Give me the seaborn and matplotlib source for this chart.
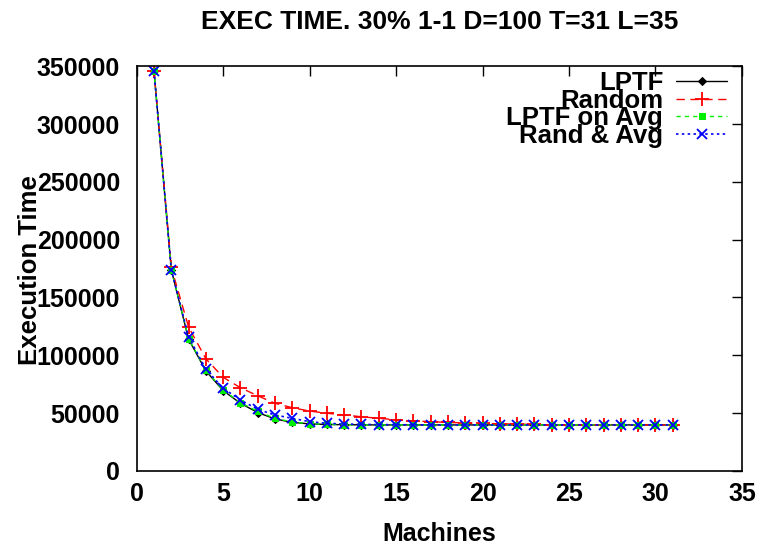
import matplotlib
matplotlib.use("Agg")
import matplotlib.pyplot as plt
import seaborn as sns
import pandas as pd

machines = list(range(1, 32))
lptf = [346000, 174000, 114000, 86500, 69500, 58500, 50500, 45000, 42000, 40700,
        40200, 40000, 39900, 39800, 39800, 39800, 39800, 39800, 39800, 39800,
        39800, 39800, 39800, 39800, 39800, 39800, 39800, 39800, 39800, 39800, 39800]
random_ = [346000, 176000, 124500, 97000, 81000, 72000, 65000, 58500, 54700, 51800,
           49900, 48400, 46900, 45500, 44300, 43300, 42600, 42000, 41500, 41100,
           40800, 40500, 40200, 40000, 39900, 39900, 39800, 39800, 39800, 39800, 39800]
lptf_avg = [346000, 174000, 114500, 87000, 70000, 59000, 51500, 45500, 42300, 40900,
            40300, 40100, 39900, 39800, 39800, 39800, 39800, 39800, 39800, 39800,
            39800, 39800, 39800, 39800, 39800, 39800, 39800, 39800, 39800, 39800, 39800]
rand_avg = [346000, 174000, 116000, 88000, 71500, 61400, 53300, 48400, 45500, 42600,
            41200, 40600, 40300, 40100, 40000, 39900, 39900, 39800, 39800, 39800,
            39800, 39800, 39800, 39800, 39800, 39800, 39800, 39800, 39800, 39800, 39800]
series_names = ["LPTF", "Random", "LPTF on Avg", "Rand & Avg"]
x_ticks = [0, 5, 10, 15, 20, 25, 30, 35]
y_ticks = [0, 50000, 100000, 150000, 200000, 250000, 300000, 350000]

sns.set_style("white")
plt.rcParams["font.family"] = ["Liberation Sans", "DejaVu Sans"]
plt.rcParams["font.weight"] = "bold"
plt.rcParams["text.color"] = "black"
plt.rcParams["axes.labelcolor"] = "black"
plt.rcParams["xtick.color"] = "black"
plt.rcParams["ytick.color"] = "black"

fig = plt.figure(figsize=(7.68, 5.47), dpi=100)
ax = fig.add_axes([0.178, 0.139, 0.788, 0.740])

styles = [
    dict(color="black", linestyle="-", marker="D", markersize=4, linewidth=1.0),
    dict(color="red", linestyle=(0, (6, 4)), marker="+", markersize=9.5, markeredgewidth=1.3, linewidth=1.0),
    dict(color="#00ee00", linestyle=(0, (3, 3)), marker="s", markersize=5, linewidth=1.0),
    dict(color="blue", linestyle=(0, (1.5, 2.0)), marker="x", markersize=6.5, markeredgewidth=1.3, linewidth=1.2),
]
for name, vals, st in zip(series_names, [lptf, random_, lptf_avg, rand_avg], styles):
    df = pd.DataFrame({"Machines": machines, "Execution Time": vals})
    sns.lineplot(data=df, x="Machines", y="Execution Time", ax=ax, label=name,
                 markeredgecolor=st["color"], **st)

ax.set_xlim(0, 35)
ax.set_ylim(0, 350000)
ax.set_xticks(x_ticks)
ax.set_yticks(y_ticks)
ax.set_xticklabels([str(t) for t in x_ticks], fontsize=18, fontweight="bold")
ax.set_yticklabels([str(t) for t in y_ticks], fontsize=18, fontweight="bold")
ax.tick_params(direction="in", length=7, width=1, top=True, right=True)
ax.tick_params(axis="y", pad=12)
ax.tick_params(axis="x", pad=8)
for s in ax.spines.values():
    s.set_linewidth(1.2)
    s.set_color("black")

ax.set_xlabel("Machines", fontsize=18, fontweight="bold")
ax.xaxis.set_label_coords(0.5, -0.127)
ax.set_ylabel("Execution Time", fontsize=18.5, fontweight="bold")
ax.yaxis.set_label_coords(-0.157, 0.496)
ax.set_title("EXEC TIME. 30% 1-1 D=100 T=31 L=35", fontsize=19, fontweight="bold", pad=27)

leg = ax.legend(loc="upper right", markerfirst=False, frameon=False,
                prop={"size": 18.5, "weight": "bold"}, labelspacing=-0.24,
                handlelength=2.0, handletextpad=0.5, borderaxespad=0.0,
                bbox_to_anchor=(0.993, 1.014))

fig.savefig("out.png", dpi=100)
